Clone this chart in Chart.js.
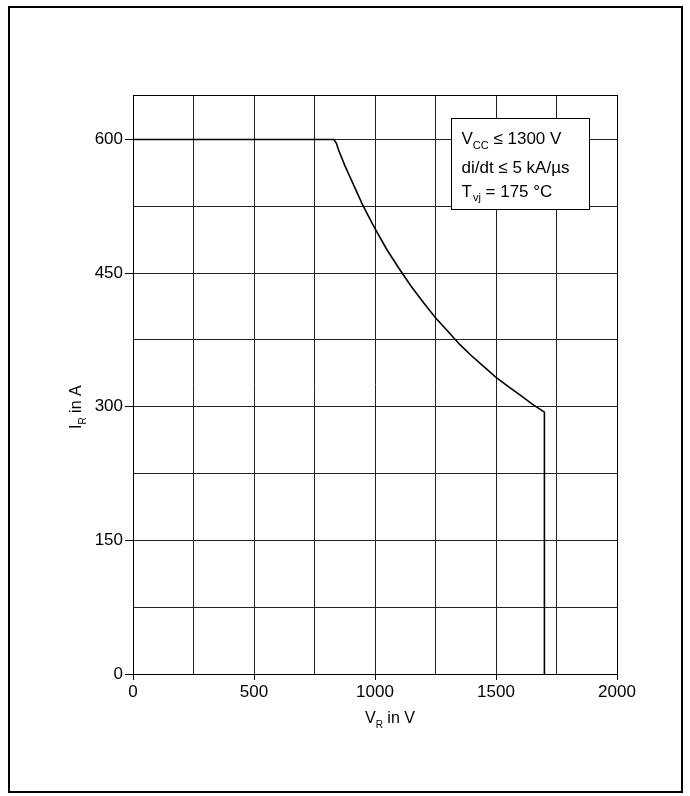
<!DOCTYPE html>
<html>
<head>
<meta charset="utf-8">
<script src="https://cdn.jsdelivr.net/npm/chart.js@4.4.1/dist/chart.umd.min.js"></script>
<style>
  html, body { margin: 0; padding: 0; background: #fff; }
  #wrap { width: 690px; height: 796px; position: relative; }
</style>
</head>
<body>
<div id="wrap"><canvas id="c" width="690" height="796"></canvas></div>
<script>
// Data (V_R in V, I_R in A)
const voltage = [0, 830, 840, 850, 875, 900, 925, 950, 975, 1000, 1050, 1100, 1150, 1200, 1250, 1300, 1350, 1400, 1450, 1500, 1550, 1600, 1650, 1700, 1700];
const current = [600, 600, 596, 588, 571, 556, 541, 526, 513, 500, 476, 455, 435, 417, 400, 385, 370, 357, 345, 333, 323, 313, 303, 294, 0];

const xTickLabels = [0, 500, 1000, 1500, 2000];
const yTickLabels = [0, 150, 300, 450, 600];

const FONT = "'Liberation Sans', Arial, Helvetica, sans-serif";

const points = voltage.map((v, i) => ({ x: v, y: current[i] }));

const decorPlugin = {
  id: 'decor',
  beforeDraw(chart) {
    const ctx = chart.ctx;
    ctx.save();
    ctx.fillStyle = '#fff';
    ctx.fillRect(0, 0, chart.width, chart.height);
    ctx.restore();
  },
  afterDraw(chart) {
    const ctx = chart.ctx;
    const xs = chart.scales.x, ys = chart.scales.y;
    const ca = chart.chartArea;
    ctx.save();
    // plot frame
    ctx.strokeStyle = '#000';
    ctx.lineWidth = 1;
    ctx.strokeRect(Math.round(ca.left) + 0.5, Math.round(ca.top) + 0.5,
                   Math.round(ca.right - ca.left), Math.round(ca.bottom - ca.top));
    // outer figure border
    ctx.lineWidth = 2;
    ctx.strokeRect(9, 7, 673, 785);

    ctx.fillStyle = '#000';
    ctx.textBaseline = 'alphabetic';
    ctx.textAlign = 'left';

    // X axis title: V_R in V
    let x = 365, y = 723;
    ctx.font = '16px ' + FONT;
    ctx.fillText('V', x, y);
    x += ctx.measureText('V').width;
    ctx.font = '10px ' + FONT;
    ctx.fillText('R', x, y + 5);
    x += ctx.measureText('R').width;
    ctx.font = '16px ' + FONT;
    ctx.fillText(' in V', x, y);

    // Y axis title: I_R in A (rotated)
    ctx.save();
    ctx.translate(81, 429);
    ctx.rotate(-Math.PI / 2);
    let tx = 0;
    ctx.font = '16px ' + FONT;
    ctx.fillText('I', tx, 0);
    tx += ctx.measureText('I').width;
    ctx.font = '10px ' + FONT;
    ctx.fillText('R', tx, 5);
    tx += ctx.measureText('R').width;
    ctx.font = '16px ' + FONT;
    ctx.fillText(' in A', tx, 0);
    ctx.restore();

    // Condition box
    const bl = Math.round(xs.getPixelForValue(1314)) + 0.5;
    const br = Math.round(xs.getPixelForValue(1885)) + 0.5;
    const bt = Math.round(ys.getPixelForValue(624)) + 0.5;
    const bb = Math.round(ys.getPixelForValue(521.5)) + 0.5;
    ctx.fillStyle = '#fff';
    ctx.fillRect(bl, bt, br - bl, bb - bt);
    ctx.strokeStyle = '#000';
    ctx.lineWidth = 1;
    ctx.strokeRect(bl, bt, br - bl, bb - bt);

    ctx.fillStyle = '#000';
    const lx = bl + 10;
    // line 1
    let px = lx, py = bt + 25;
    ctx.font = '17px ' + FONT;
    ctx.fillText('V', px, py);
    px += ctx.measureText('V').width;
    ctx.font = '11px ' + FONT;
    ctx.fillText('CC', px, py + 5);
    px += ctx.measureText('CC').width;
    ctx.font = '17px ' + FONT;
    ctx.fillText(' \u2264 1300 V', px, py);
    // line 2
    ctx.fillText('di/dt \u2264 5 kA/\u00b5s', lx, bt + 54);
    // line 3
    px = lx; py = bt + 78;
    ctx.fillText('T', px, py);
    px += ctx.measureText('T').width;
    ctx.font = '11px ' + FONT;
    ctx.fillText('vj', px + 1, py + 4);
    px += ctx.measureText('vj').width + 1;
    ctx.font = '17px ' + FONT;
    ctx.fillText(' = 175 \u00b0C', px, py);
    ctx.restore();
  }
};

new Chart(document.getElementById('c'), {
  type: 'scatter',
  data: {
    datasets: [{
      data: points,
      showLine: true,
      borderColor: '#000',
      borderWidth: 1.6,
      pointRadius: 0,
      pointHoverRadius: 0,
      tension: 0,
      fill: false
    }]
  },
  options: {
    responsive: false,
    animation: false,
    devicePixelRatio: 1,
    layout: { padding: { top: 95, right: 73, bottom: 0, left: 0 } },
    plugins: { legend: { display: false }, tooltip: { enabled: false } },
    scales: {
      x: {
        type: 'linear',
        min: 0, max: 2000,
        afterFit(scale) { scale.height = 122; },
        border: { display: true, color: '#000', width: 1 },
        grid: {
          color: '#222',
          lineWidth: 1,
          tickLength: 6,
          tickColor: (c) => xTickLabels.includes(c.tick.value) ? '#000' : 'rgba(0,0,0,0)'
        },
        ticks: {
          stepSize: 250,
          autoSkip: false,
          maxRotation: 0,
          padding: 2,
          color: '#000',
          font: { family: FONT, size: 17 },
          callback: (v) => xTickLabels.includes(v) ? String(v) : ''
        }
      },
      y: {
        type: 'linear',
        min: 0, max: 650,
        afterFit(scale) { scale.width = 133; },
        border: { display: true, color: '#000', width: 1 },
        grid: {
          color: '#222',
          lineWidth: 1,
          tickLength: 8,
          tickColor: (c) => yTickLabels.includes(c.tick.value) ? '#000' : 'rgba(0,0,0,0)'
        },
        ticks: {
          stepSize: 75,
          autoSkip: false,
          padding: 2,
          color: '#000',
          font: { family: FONT, size: 17 },
          callback: (v) => yTickLabels.includes(v) ? String(v) : ''
        }
      }
    }
  },
  plugins: [decorPlugin]
});
</script>
</body>
</html>
